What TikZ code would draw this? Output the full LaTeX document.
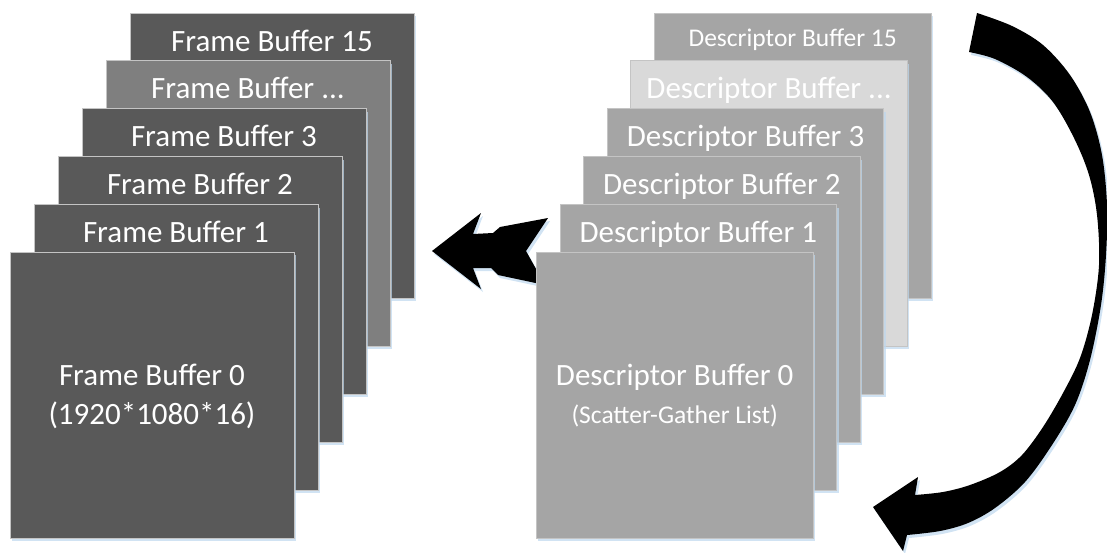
\documentclass[tikz,border=0pt]{standalone}
\usepackage{fontspec}
\setmainfont{Carlito}
\usetikzlibrary{shadows,calc}
\definecolor{fbdark}{HTML}{595959}
\definecolor{fbmid}{HTML}{7F7F7F}
\definecolor{dbgray}{HTML}{A5A5A5}
\definecolor{dblight}{HTML}{D9D9D9}
\definecolor{edgegray}{HTML}{C4C4C4}
\definecolor{glow}{HTML}{BDD7EE}
\begin{document}
\begin{tikzpicture}[x=1pt,y=-1pt,
  glowshadow/.style={drop shadow={shadow xshift=2pt, shadow yshift=-3pt, fill=glow, opacity=0.7}},
  buf/.style={draw=edgegray, line width=0.9pt, anchor=north west, inner sep=0pt, glowshadow},
  fbuf/.style={buf, fill=fbdark, minimum width=284pt, minimum height=285.5pt},
  dbuf/.style={buf, fill=dbgray, minimum width=276.5pt, minimum height=285.5pt},
  lbl/.style={text=white, anchor=base, inner sep=0pt, font=\fontsize{31}{37}\selectfont},
  slbl/.style={lbl, font=\fontsize{25.5}{30}\selectfont},
]
\useasboundingbox (0,0) rectangle (1107,552);

% ---------- left stack: frame buffers ----------
\node[fbuf] (fb15) at (129.5,12.5) {};
\node[lbl] (fb15t) at ($(fb15.north)+(0,38.5)$) {Frame Buffer 15};
\node[fbuf, fill=fbmid] (fbd) at (105.5,60.4) {};
\node[lbl] (fbdt) at ($(fbd.north)+(0,38.5)$) {Frame Buffer ...};
\node[fbuf] (fb3) at (81.5,108.3) {};
\node[lbl] (fb3t) at ($(fb3.north)+(0,38.5)$) {Frame Buffer 3};
\node[fbuf] (fb2) at (57.5,156.2) {};
\node[lbl] (fb2t) at ($(fb2.north)+(0,38.5)$) {Frame Buffer 2};
\node[fbuf] (fb1) at (33.5,204.1) {};
\node[lbl] (fb1t) at ($(fb1.north)+(0,38.5)$) {Frame Buffer 1};
\node[fbuf] (fb0) at (9.5,252) {};
\node[lbl] (fb0t) at ($(fb0.north)+(0,133.5)$) {Frame Buffer 0};
\node[lbl] (fb0s) at ($(fb0.north)+(0,172)$) {(1920*1080*16)};

% ---------- right stack: descriptor buffers ----------
\node[dbuf] (db15) at (654,12.5) {};
\node[slbl] (db15t) at ($(db15.north)+(0,33.5)$) {Descriptor Buffer 15};
\node[dbuf, fill=dblight] (dbd) at (630.4,60.4) {};
\node[lbl] (dbdt) at ($(dbd.north)+(0,38.5)$) {Descriptor Buffer ...};
\node[dbuf] (db3) at (606.8,108.3) {};
\node[lbl] (db3t) at ($(db3.north)+(0,38.5)$) {Descriptor Buffer 3};
\node[dbuf] (db2) at (583.2,156.2) {};
\node[lbl] (db2t) at ($(db2.north)+(0,38.5)$) {Descriptor Buffer 2};
\node[dbuf] (db1) at (559.6,204.1) {};
\node[lbl] (db1t) at ($(db1.north)+(0,38.5)$) {Descriptor Buffer 1};

% ---------- left block arrow (behind descriptor buffer 0) ----------
\fill[black, glowshadow] (432,251) -- (481,213) -- (473,234) -- (493,233) -- (500,227)
  -- (548,218) -- (526,251) -- (545,285) -- (498,275) -- (491,268) -- (473,268)
  -- (481,289) -- cycle;

\node[dbuf] (db0) at (536,252) {};
\node[lbl] (db0t) at ($(db0.north)+(0,133.5)$) {Descriptor Buffer 0};
\node[slbl] (db0s) at ($(db0.north)+(0,171)$) {(Scatter-Gather List)};

% ---------- curved block arrow ----------
\fill[black, glowshadow]
  plot[smooth, tension=0.55] coordinates {(977,13) (1012,26) (1043,45) (1070,75) (1090,112)
     (1102,155) (1107,205) (1106,255) (1101,305) (1090,360) (1075,405) (1052,445)
     (1025,482) (995,508) (968,523) (940,531) (907,535)}
  -- (903,551) -- (873,507) -- (918,477) -- (915,495)
  -- plot[smooth, tension=0.55] coordinates {(915,495) (943,492) (970,485) (1000,472)
     (1022,455) (1043,427) (1063,393) (1080,358) (1092,315) (1099,265) (1097,215)
     (1089,175) (1074,138) (1053,102) (1027,77) (995,59) (969,52)}
  -- cycle;
\end{tikzpicture}
\end{document}
